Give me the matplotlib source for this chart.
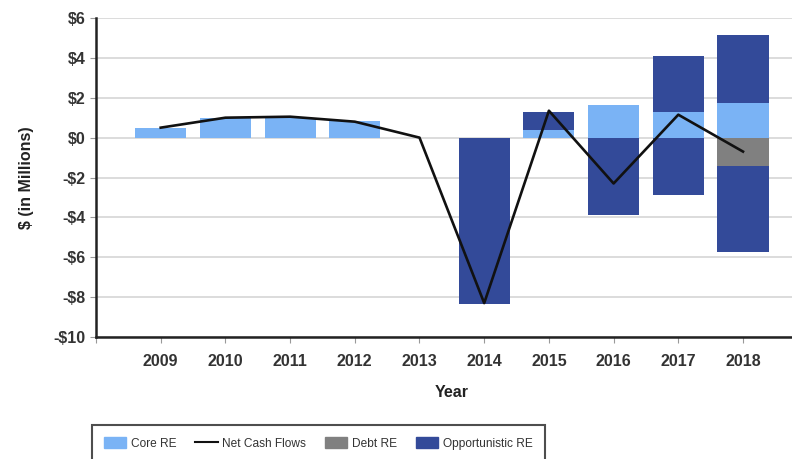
# Cash flow chart by real estate strategy

import matplotlib.pyplot as plt
import numpy as np

plt.rcParams['font.family'] = ['Liberation Sans', 'DejaVu Sans']

# Data ($ millions)
years = [2009, 2010, 2011, 2012, 2013, 2014, 2015, 2016, 2017, 2018]
core_re = [0.5, 1.0, 1.0, 0.85, 0.0, 0.0, 0.4, 1.65, 1.3, 1.72]
debt_re = [0, 0, 0, 0, 0, 0, 0, 0, 0, -1.4]
opp_re_pos = [0, 0, 0, 0, 0, 0, 0.9, 0, 2.8, 3.45]
opp_re_neg = [0, 0, 0, 0, 0, -8.35, 0, -3.9, -2.9, -4.35]
net_cash = [0.5, 1.0, 1.05, 0.8, 0.0, -8.3, 1.35, -2.3, 1.15, -0.7]

y_ticks = [-10, -8, -6, -4, -2, 0, 2, 4, 6]

core_color = '#7ab3f5'
debt_color = '#808080'
opp_color = '#334a99'

fig = plt.figure(figsize=(7.92, 4.59), dpi=100)
# axes runs past the right edge like the cropped original
ax = fig.add_axes([96 / 792, 122 / 459, 11 * 64.7 / 792, 319 / 459])

x = np.array(years)
w = 0.79
ax.bar(x, core_re, w, color=core_color, zorder=2)
ax.bar(x, opp_re_pos, w, bottom=core_re, color=opp_color, zorder=2)
ax.bar(x, debt_re, w, color=debt_color, zorder=2)
ax.bar(x, opp_re_neg, w, bottom=debt_re, color=opp_color, zorder=2)
ax.plot(x, net_cash, color='#111111', lw=1.9, zorder=3)

ax.set_xlim(2008, 2019)
ax.set_ylim(-10, 6)
ax.set_xticks(range(2008, 2019))
ax.set_xticklabels([''] + [str(y) for y in years])
ax.set_yticks(y_ticks)
ax.set_yticklabels([('-$%d' % -v) if v < 0 else ('$%d' % v) for v in y_ticks])
ax.tick_params(labelsize=11.5, colors='#999999', labelcolor='#333333', length=4)
ax.tick_params(axis='x', pad=8)
for lbl in ax.get_xticklabels() + ax.get_yticklabels():
    lbl.set_fontweight('bold')

ax.grid(axis='y', color='#d9d9d9', lw=1.3, zorder=0)
ax.set_axisbelow(True)
for s in ['top', 'right']:
    ax.spines[s].set_visible(False)
for s in ['left', 'bottom']:
    ax.spines[s].set_linewidth(1.8)
    ax.spines[s].set_color('#222222')

ax.set_ylabel('$ (in Millions)', fontsize=11.5, fontweight='bold', color='#222222', labelpad=14)
ax.set_xlabel('Year', fontsize=11.5, fontweight='bold', color='#222222', labelpad=12)

handles = [
    plt.Rectangle((0, 0), 1, 1, color=core_color),
    plt.Line2D([0], [0], color='#111111', lw=1.5),
    plt.Rectangle((0, 0), 1, 1, color=debt_color),
    plt.Rectangle((0, 0), 1, 1, color=opp_color),
]
labels = ['Core RE', 'Net Cash Flows', 'Debt RE', 'Opportunistic RE']
leg = fig.legend(handles, labels, loc='upper left', bbox_to_anchor=(92 / 792, 1 - 425 / 459),
                 ncol=4, fontsize=8.6, frameon=True, fancybox=False, columnspacing=1.6,
                 handlelength=1.85, handleheight=1.1, handletextpad=0.4,
                 borderpad=1.0, borderaxespad=0)
leg.get_frame().set_edgecolor('#222222')
leg.get_frame().set_linewidth(1.5)
for t in leg.get_texts():
    t.set_color('#333333')

fig.savefig('out.png', dpi=100)
